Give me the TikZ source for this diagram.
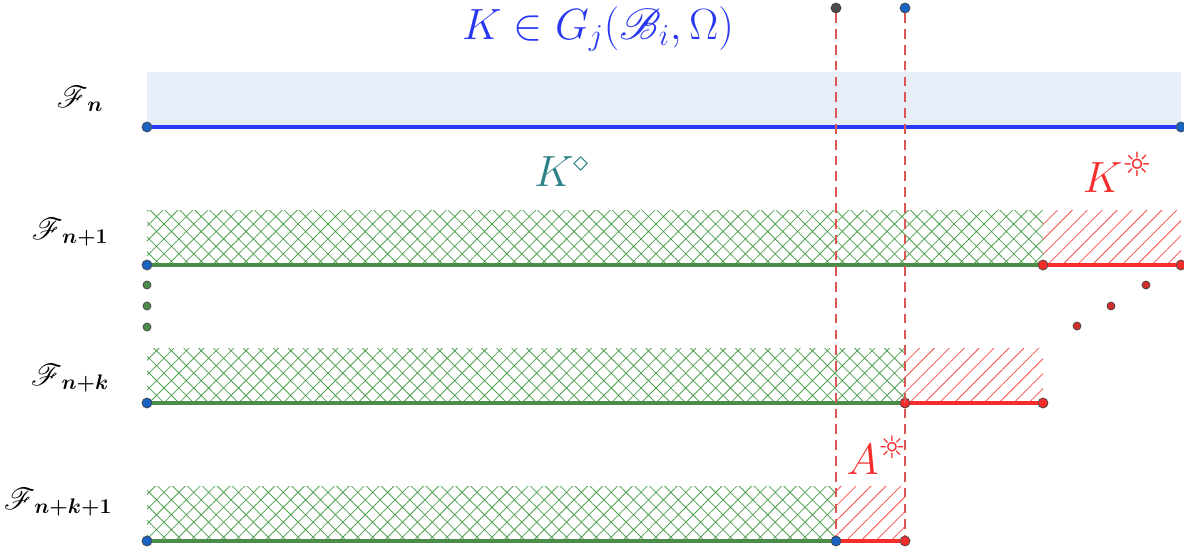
\documentclass[tikz,border=0pt]{standalone}
\usepackage{amsmath}
\usepackage{amssymb}
\usepackage{mathrsfs}
\usepackage{fontspec}
\newfontfamily\symfont{DejaVu Sans}
\usetikzlibrary{patterns.meta}
\definecolor{lineblue}{RGB}{40,55,240}
\definecolor{bandblue}{RGB}{230,238,248}
\definecolor{setgreen}{RGB}{75,140,75}
\definecolor{hatchgreen}{RGB}{80,160,80}
\definecolor{setred}{RGB}{245,45,45}
\definecolor{dashred}{RGB}{222,85,85}
\definecolor{ptblue}{RGB}{25,100,195}
\definecolor{ptgray}{RGB}{75,75,75}
\definecolor{ptred}{RGB}{210,45,45}
\definecolor{tealtext}{RGB}{45,130,135}
\newcommand{\sunmark}{\text{\symfont\char"263C}}

\begin{document}
\begin{tikzpicture}[x=0.02cm, y=-0.02cm,
      dot/.style={circle, draw=black!75, line width=0.4pt, inner sep=0pt, minimum size=0.2cm},
      smalldot/.style={circle, draw=black!75, line width=0.4pt, inner sep=0pt, minimum size=0.16cm},
      seg/.style={line width=2.2pt},
      greenhatch/.style={pattern={Hatch[angle=45, distance=6pt, line width=0.45pt]}, pattern color=hatchgreen},
      redhatch/.style={pattern={Lines[angle=45, distance=6pt, line width=0.45pt]}, pattern color=setred!85},
      cut/.style={dashred, line width=0.9pt, dash pattern=on 5.5pt off 3.5pt},
      flabel/.style={font=\fontsize{17}{20}\selectfont}
    ]
    \useasboundingbox (0,0) rectangle (1184,552);

    % Cut points at the top
    \node[dot, fill=ptgray] (ca) at (836,8) {};
    \node[dot, fill=ptblue] (cb) at (905,8) {};

    % Level n
    \fill[bandblue] (147,72) rectangle (1181,127);
    \node[dot, fill=ptblue] (a0) at (147,127) {};
    \node[dot, fill=ptblue] (b0) at (1181,127) {};
    \draw[seg, lineblue] (a0) -- (b0);

    % Level n+1
    \fill[greenhatch] (147,210) rectangle (1043,265);
    \fill[redhatch] (1043,210) rectangle (1181,265);
    \node[dot, fill=ptblue] (a1) at (147,265) {};
    \node[dot, fill=setred] (m1) at (1043,265) {};
    \node[dot, fill=setred] (b1) at (1181,265) {};
    \draw[seg, setgreen] (a1) -- (m1);
    \draw[seg, setred] (m1) -- (b1);

    % Level n+k
    \fill[greenhatch] (147,348) rectangle (905,403);
    \fill[redhatch] (905,348) rectangle (1043,403);
    \node[dot, fill=ptblue] (a2) at (147,403) {};
    \node[dot, fill=setred] (m2) at (905,403) {};
    \node[dot, fill=setred] (b2) at (1043,403) {};
    \draw[seg, setgreen] (a2) -- (m2);
    \draw[seg, setred] (m2) -- (b2);

    % Level n+k+1
    \fill[greenhatch] (147,486) rectangle (836,541);
    \fill[redhatch] (836,486) rectangle (905,541);
    \node[dot, fill=ptblue] (a3) at (147,541) {};
    \node[dot, fill=ptblue] (m3) at (836,541) {};
    \node[dot, fill=setred] (b3) at (905,541) {};
    \draw[seg, setgreen] (a3) -- (m3);
    \draw[seg, setred] (m3) -- (b3);

    % Dashed cuts
    \draw[cut] (ca) -- (m3);
    \draw[cut] (cb) -- (b3);

    % Dots between levels
    \node[smalldot, fill=setgreen] (g1) at (147,285) {};
    \node[smalldot, fill=setgreen] (g2) at (147,306) {};
    \node[smalldot, fill=setgreen] (g3) at (147,327) {};
    \node[smalldot, fill=ptred] (r1) at (1146,285) {};
    \node[smalldot, fill=ptred] (r2) at (1111,306) {};
    \node[smalldot, fill=ptred] (r3) at (1077,326) {};

    % Labels
    \node[lineblue, font=\fontsize{24}{28}\selectfont, inner sep=1pt] (title) at (598,29) {$K \in G_{j}(\mathscr{B}_{i},\Omega)$};
    \node[flabel] (fn) at (80,99) {$\mathscr{F}_{\,\boldsymbol{n}}$};
    \node[flabel] (fn1) at (70,232) {$\mathscr{F}_{\,\boldsymbol{n+1}}$};
    \node[flabel] (fnk) at (70,378) {$\mathscr{F}_{\,\boldsymbol{n+k}}$};
    \node[flabel] (fnk1) at (58,502) {$\mathscr{F}_{\,\boldsymbol{n+k+1}}$};
    \node[tealtext, font=\fontsize{27}{32}\selectfont] (kin) at (562,172) {$K^{\diamond}$};
    \node[setred, font=\fontsize{27}{32}\selectfont] (kout) at (1118,172) {$K^{\sunmark}$};
    \node[setred, font=\fontsize{25}{30}\selectfont] (aout) at (877,455) {$A^{\sunmark}$};

  \end{tikzpicture}
\end{document}
